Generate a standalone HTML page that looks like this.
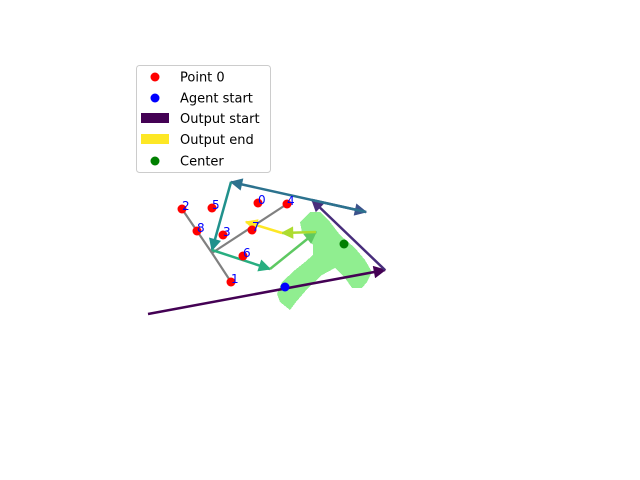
<!DOCTYPE html>
<html><head><meta charset="utf-8"><style>
html,body{margin:0;padding:0;background:#fff}
svg{display:block;font-family:"DejaVu Sans","Liberation Sans",sans-serif}
</style></head><body>
<svg width="640" height="480" viewBox="0 0 640 480">
<defs>
<marker id="ah" viewBox="0 0 10 10" refX="9" refY="5" markerWidth="5.5" markerHeight="5" markerUnits="strokeWidth" orient="auto">
<path d="M0,0 L10,5 L0,10 z" fill="context-stroke"/></marker>
</defs>
<polygon fill="#90ee90" shape-rendering="crispEdges"
 points="310,212 320,212 330,222 340,235 355,248 365,260 372,272 367,282 362,288 352,288 345,278 335,268 322,275 308,288 296,302 290,310 280,302 277,294 282,282 295,270 305,262 313,255 313,245 302,232 300,222"/>
<g id="gray" stroke="#808080" stroke-width="2.2" fill="none"></g>
<g id="arrows" fill="none" stroke-width="2.5"></g>
<g id="pts"></g>
<g>
<rect x="136.5" y="65.5" width="134" height="107" rx="3" fill="#fff" fill-opacity="0.8" stroke="#ccc"/>
<circle cx="155" cy="77" r="4.5" fill="red"/>
<text x="180" y="81.5" font-size="13">Point 0</text>
<circle cx="155" cy="98" r="4.5" fill="blue"/>
<text x="180" y="102.5" font-size="13">Agent start</text>
<rect x="141" y="113" width="28" height="10" fill="#440154"/>
<text x="180" y="123" font-size="13">Output start</text>
<rect x="141" y="134" width="28" height="10" fill="#fde725"/>
<text x="180" y="144" font-size="13">Output end</text>
<circle cx="155" cy="161" r="4.5" fill="green"/>
<text x="180" y="165.5" font-size="13">Center</text>
</g>
</svg>
<script>
const pointX=[258,231,182,223,287,212,243,252,197];
const pointY=[203,282,209,235,204,208,256,230,231];
const pathX=[148,385,312,366,231,212,270,316,282,246];
const pathY=[314,270,200,212,182,250,269,232,233,222];
const arrowColors=["#440154","#472d7b","#3b528b","#2c728e","#21918c","#28ae80","#5ec962","#addc30","#fde725"];
const hubX=212, hubY=253;
const spokes=[4,2,1];
const agentX=285, agentY=287;
const centerX=344, centerY=244;
const NS="http://www.w3.org/2000/svg";
const g=document.getElementById('gray');
spokes.forEach(i=>{
 const l=document.createElementNS(NS,'line');
 
 
 l.setAttribute('x1',hubX);l.setAttribute('y1',hubY);
 l.setAttribute('x2',pointX[i]);l.setAttribute('y2',pointY[i]);
 g.appendChild(l);
});
const a=document.getElementById('arrows');
for(let i=0;i<pathX.length-1;i++){
 const l=document.createElementNS(NS,'line');
 
 
 l.setAttribute('x1',pathX[i]);l.setAttribute('y1',pathY[i]);
 l.setAttribute('x2',pathX[i+1]);l.setAttribute('y2',pathY[i+1]);
 l.setAttribute('stroke',arrowColors[i]);
 l.setAttribute('marker-end','url(#ah)');
 a.appendChild(l);
}
const p=document.getElementById('pts');
pointX.forEach((x,i)=>{
 const c=document.createElementNS(NS,'circle');
 
 
 c.setAttribute('cx',x);c.setAttribute('cy',pointY[i]);c.setAttribute('r',4.5);c.setAttribute('fill','red');
 p.appendChild(c);
 const t=document.createElementNS(NS,'text');
 
 
 t.setAttribute('x',x);t.setAttribute('y',pointY[i]+1);t.setAttribute('fill','blue');t.setAttribute('font-size','12');
 t.textContent=String(i);
 p.appendChild(t);
});
const ag=document.createElementNS(NS,'circle');


ag.setAttribute('cx',agentX);ag.setAttribute('cy',agentY);ag.setAttribute('r',4.5);ag.setAttribute('fill','blue');
p.appendChild(ag);
const ce=document.createElementNS(NS,'circle');


ce.setAttribute('cx',centerX);ce.setAttribute('cy',centerY);ce.setAttribute('r',4.5);ce.setAttribute('fill','green');
p.appendChild(ce);
</script>
</body></html>
